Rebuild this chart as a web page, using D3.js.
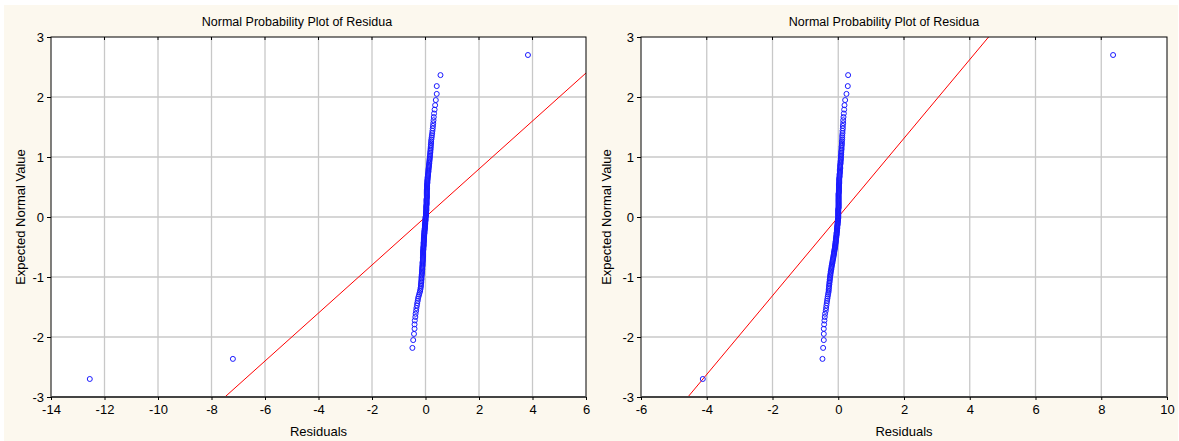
<!DOCTYPE html>
<html><head><meta charset="utf-8">
<script src="https://cdn.jsdelivr.net/npm/d3@7"></script>
<style>
body{margin:0;background:#fff;}
svg{display:block;}
text{font-family:Arial,"Liberation Sans",sans-serif;fill:#000;}
</style>
</head><body>
<svg id="c" width="1179" height="441"></svg>
<script>
// ---------------- data ----------------
const chartTitle = "Normal Probability Plot of Residua";
const xLabel = "Residuals";
const yLabel = "Expected Normal Value";
const xTicksLeft = [-14,-12,-10,-8,-6,-4,-2,0,2,4,6];
const xTicksRight = [-6,-4,-2,0,2,4,6,8,10];
const yTicks = [-3,-2,-1,0,1,2,3];

// residuals (sorted)
const residualsLeft = [
 -12.55,-7.2,-0.49,-0.46,-0.43,-0.41,-0.41,-0.40,-0.38,-0.37,
 -0.35,-0.34,-0.32,-0.31,-0.29,-0.28,-0.26,-0.24,-0.22,-0.20,
 -0.19,-0.18,-0.17,-0.17,-0.16,-0.16,-0.15,-0.15,-0.15,-0.14,
 -0.14,-0.13,-0.13,-0.13,-0.12,-0.12,-0.12,-0.11,-0.11,-0.11,
 -0.11,-0.10,-0.10,-0.10,-0.10,-0.09,-0.09,-0.09,-0.09,-0.09,
 -0.09,-0.09,-0.08,-0.08,-0.08,-0.08,-0.07,-0.07,-0.07,-0.07,
 -0.07,-0.06,-0.06,-0.06,-0.06,-0.06,-0.05,-0.05,-0.05,-0.05,
 -0.04,-0.04,-0.04,-0.04,-0.03,-0.03,-0.03,-0.02,-0.02,-0.02,
 -0.02,-0.01,-0.01,-0.01,-0.01,0.00,0.00,0.00,0.00,0.00,
 0.01,0.02,0.02,0.02,0.02,0.02,0.02,0.03,0.03,0.03,
 0.03,0.03,0.03,0.03,0.04,0.04,0.04,0.04,0.04,0.04,
 0.04,0.04,0.05,0.05,0.05,0.05,0.05,0.05,0.05,0.05,
 0.05,0.05,0.06,0.06,0.06,0.06,0.06,0.06,0.07,0.07,
 0.07,0.07,0.08,0.08,0.08,0.09,0.09,0.10,0.10,0.11,
 0.11,0.11,0.12,0.12,0.13,0.13,0.14,0.14,0.15,0.15,
 0.16,0.16,0.17,0.17,0.18,0.18,0.19,0.19,0.20,0.20,
 0.21,0.21,0.22,0.23,0.24,0.25,0.26,0.27,0.28,0.29,
 0.30,0.31,0.32,0.34,0.36,0.385,0.42,0.42,0.56,3.83
];
const residualsRight = [
 -4.12,-0.48,-0.46,-0.44,-0.44,-0.44,-0.43,-0.42,-0.41,-0.40,
 -0.38,-0.37,-0.36,-0.35,-0.34,-0.33,-0.32,-0.31,-0.30,-0.29,
 -0.29,-0.28,-0.28,-0.27,-0.27,-0.26,-0.26,-0.25,-0.25,-0.24,
 -0.24,-0.23,-0.23,-0.22,-0.21,-0.21,-0.20,-0.20,-0.19,-0.18,
 -0.18,-0.17,-0.17,-0.16,-0.15,-0.15,-0.14,-0.14,-0.13,-0.13,
 -0.12,-0.12,-0.11,-0.11,-0.10,-0.10,-0.09,-0.09,-0.09,-0.08,
 -0.08,-0.08,-0.07,-0.07,-0.07,-0.06,-0.06,-0.06,-0.05,-0.05,
 -0.05,-0.05,-0.04,-0.04,-0.04,-0.04,-0.03,-0.03,-0.03,-0.03,
 -0.02,-0.02,-0.02,-0.02,-0.01,-0.01,-0.01,-0.01,0.00,0.00,
 0.00,0.00,0.00,0.00,0.00,0.00,0.00,0.00,0.00,0.00,
 0.01,0.01,0.01,0.01,0.01,0.01,0.01,0.01,0.01,0.01,
 0.01,0.01,0.01,0.01,0.01,0.01,0.01,0.01,0.02,0.02,
 0.02,0.02,0.02,0.02,0.02,0.02,0.02,0.02,0.03,0.03,
 0.03,0.03,0.03,0.03,0.04,0.04,0.04,0.04,0.05,0.05,
 0.05,0.05,0.06,0.06,0.06,0.06,0.07,0.07,0.07,0.08,
 0.08,0.08,0.08,0.09,0.09,0.09,0.10,0.10,0.10,0.11,
 0.11,0.11,0.12,0.12,0.12,0.13,0.13,0.14,0.14,0.15,
 0.15,0.16,0.17,0.18,0.19,0.21,0.25,0.29,0.30,8.36
];
// fitted reference lines: [slope, intercept]
const fitLeft = [0.4, 0];
const fitRight = [0.656, 0];

// ---------------- helpers ----------------
// inverse standard normal CDF (Acklam)
function invNorm(p){
  const a=[-3.969683028665376e+01,2.209460984245205e+02,-2.759285104469687e+02,1.383577518672690e+02,-3.066479806614716e+01,2.506628277459239e+00];
  const b=[-5.447609879822406e+01,1.615858368580409e+02,-1.556989798598866e+02,6.680131188771972e+01,-1.328068155288572e+01];
  const c=[-7.784894002430293e-03,-3.223964580411365e-01,-2.400758277161838e+00,-2.549732539343734e+00,4.374664141464968e+00,2.938163982698783e+00];
  const d=[7.784695709041462e-03,3.224671290700398e-01,2.445134137142996e+00,3.754408661907416e+00];
  const pl=0.02425, ph=1-pl; let q,r;
  if(p<pl){q=Math.sqrt(-2*Math.log(p));return (((((c[0]*q+c[1])*q+c[2])*q+c[3])*q+c[4])*q+c[5])/((((d[0]*q+d[1])*q+d[2])*q+d[3])*q+1);}
  if(p<=ph){q=p-0.5;r=q*q;return (((((a[0]*r+a[1])*r+a[2])*r+a[3])*r+a[4])*r+a[5])*q/(((((b[0]*r+b[1])*r+b[2])*r+b[3])*r+b[4])*r+1);}
  q=Math.sqrt(-2*Math.log(1-p));return -(((((c[0]*q+c[1])*q+c[2])*q+c[3])*q+c[4])*q+c[5])/((((d[0]*q+d[1])*q+d[2])*q+d[3])*q+1);
}
// expected normal value for each rank (Blom)
function probPoints(res){
  const s = res.slice().sort((a,b)=>a-b), n=s.length;
  return s.map((v,i)=>({x:v, y:invNorm((i+1-0.375)/(n+0.25))}));
}

// ---------------- drawing ----------------
const svg = d3.select("#c");
svg.append("rect").attr("x",4).attr("y",5).attr("width",1174).attr("height",436).attr("fill","#fcf8ee");

const panels = [
  {res:residualsLeft, ticks:xTicksLeft, fit:fitLeft, x0:51, x1:586, px0:4, px1:590},
  {res:residualsRight, ticks:xTicksRight, fit:fitRight, x0:641, x1:1167, px0:590, px1:1178}
];
const plotTop=37, plotBottom=397;

panels.forEach((p,k)=>{
  const xs = d3.scaleLinear().domain([p.ticks[0], p.ticks[p.ticks.length-1]]).range([p.x0,p.x1]);
  const ys = d3.scaleLinear().domain([-3,3]).range([plotBottom,plotTop]);
  const g = svg.append("g");
  g.append("rect").attr("x",p.x0).attr("y",plotTop).attr("width",p.x1-p.x0).attr("height",plotBottom-plotTop).attr("fill","#fff");
  const cid = "clip"+k;
  svg.append("clipPath").attr("id",cid).append("rect").attr("x",p.x0).attr("y",plotTop).attr("width",p.x1-p.x0).attr("height",plotBottom-plotTop);

  // grid
  g.selectAll(".gx").data(p.ticks.slice(1,-1)).join("line")
    .attr("x1",d=>xs(d)).attr("x2",d=>xs(d)).attr("y1",plotTop).attr("y2",plotBottom)
    .attr("stroke","#c8c8c8").attr("stroke-width",1.3);
  g.selectAll(".gy").data(yTicks.slice(1,-1)).join("line")
    .attr("y1",d=>ys(d)).attr("y2",d=>ys(d)).attr("x1",p.x0).attr("x2",p.x1)
    .attr("stroke","#c8c8c8").attr("stroke-width",1.3);

  // fitted line
  const [m,b] = p.fit;
  const dom = xs.domain();
  g.append("line").attr("clip-path",`url(#${cid})`)
    .attr("x1",xs(dom[0])).attr("y1",ys(m*dom[0]+b))
    .attr("x2",xs(dom[1])).attr("y2",ys(m*dom[1]+b))
    .attr("stroke","#ff0000").attr("stroke-width",1);

  // points
  g.selectAll("circle").data(probPoints(p.res)).join("circle")
    .attr("cx",d=>xs(d.x)).attr("cy",d=>ys(d.y)).attr("r",2.5)
    .attr("fill","none").attr("stroke","#1a1aff").attr("stroke-width",1);

  // frame
  g.append("rect").attr("x",p.x0).attr("y",plotTop).attr("width",p.x1-p.x0).attr("height",plotBottom-plotTop)
    .attr("fill","none").attr("stroke","#000").attr("stroke-width",1);
  g.append("line").attr("x1",p.x0).attr("x2",p.x1).attr("y1",plotBottom).attr("y2",plotBottom)
    .attr("stroke","#444").attr("stroke-width",2);

  // axes
  const xa = g.append("g").attr("transform",`translate(0,${plotBottom})`)
    .call(d3.axisBottom(xs).tickValues(p.ticks).tickSize(3).tickPadding(5).tickFormat(d=>String(d)));
  xa.select(".domain").remove();
  xa.selectAll("text").attr("font-size",13).attr("font-family","Arial, 'Liberation Sans', sans-serif");
  xa.selectAll("line").attr("stroke","#000");
  const ya = g.append("g").attr("transform",`translate(${p.x0},0)`)
    .call(d3.axisLeft(ys).tickValues(yTicks).tickSize(4).tickPadding(3).tickFormat(d=>String(d)));
  ya.select(".domain").remove();
  ya.selectAll("text").attr("font-size",13).attr("font-family","Arial, 'Liberation Sans', sans-serif");
  ya.selectAll("line").attr("stroke","#000");
  // top inner ticks
  g.selectAll(".tt").data(p.ticks.slice(1,-1)).join("line")
    .attr("x1",d=>xs(d)).attr("x2",d=>xs(d)).attr("y1",plotTop).attr("y2",plotTop+3).attr("stroke","#000");

  // titles
  g.append("text").attr("x",(p.px0+p.px1)/2).attr("y",26).attr("text-anchor","middle")
    .attr("font-size",12.5).text(chartTitle);
  g.append("text").attr("x",(p.x0+p.x1)/2).attr("y",436).attr("text-anchor","middle")
    .attr("font-size",13).text(xLabel);
  g.append("text").attr("transform",`translate(${p.px0+16},${(plotTop+plotBottom)/2}) rotate(-90)`)
    .attr("text-anchor","middle").attr("dy","0.35em").attr("font-size",13).text(yLabel);
});
</script>
</body></html>
